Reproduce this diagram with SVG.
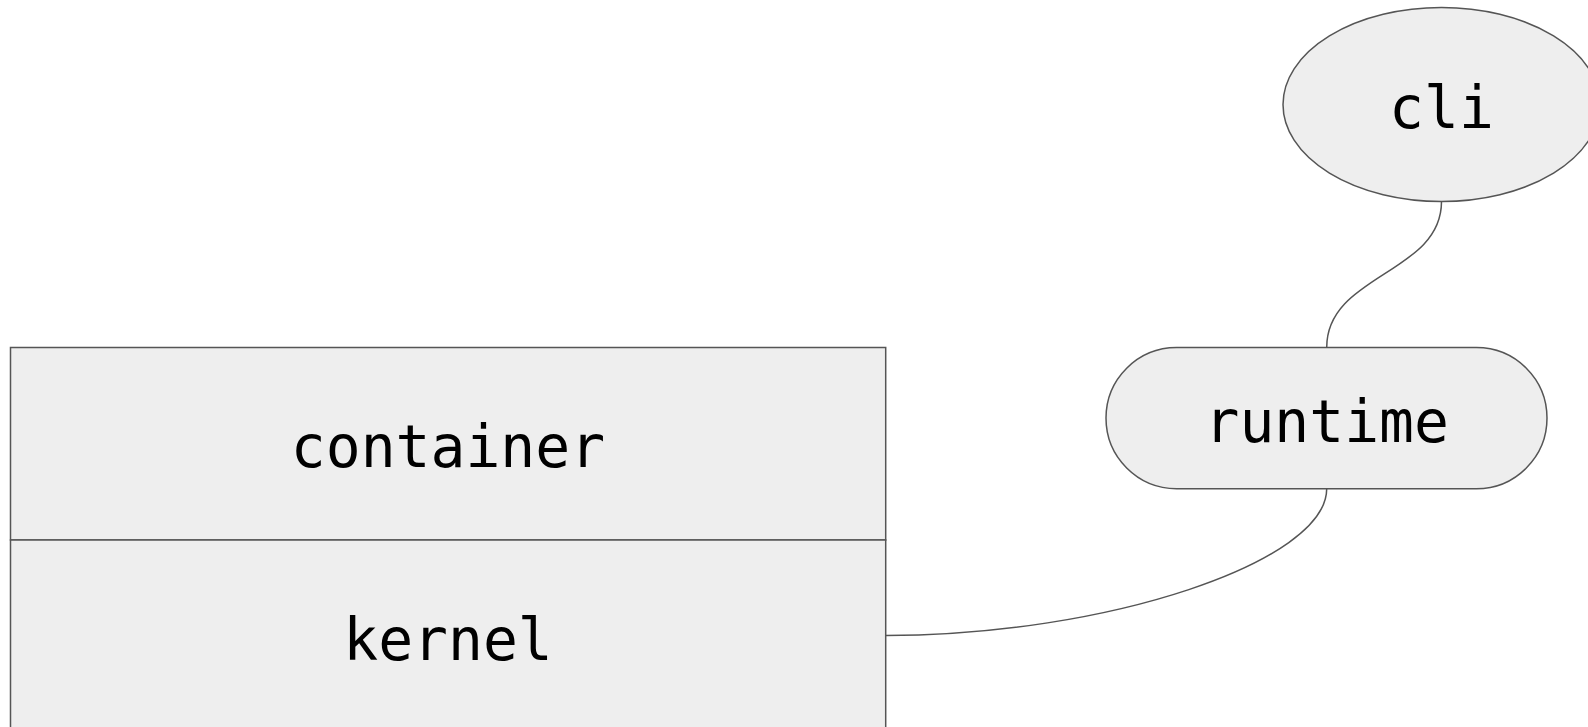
<svg xmlns="http://www.w3.org/2000/svg" width="1588" height="727" viewBox="0 0 1588 727">
  <style>
    .shape { fill: #eeeeee; stroke: #555555; stroke-width: 1.5; }
    .edge { fill: none; stroke: #555555; stroke-width: 1.5; }
    .label { font-family: "DejaVu Sans Mono", "Liberation Mono", monospace; font-size: 58px; fill: #000000; text-anchor: middle; }
  </style>
  <rect width="1588" height="727" fill="#ffffff"/>

  <g id="connectors">
    <path class="edge" d="M1441.5,201.5 C1441.5,274 1326.7,274 1326.7,347.5"/>
    <path class="edge" d="M1326.7,488.7 C1326.7,562 1106,635.5 885.7,635.5"/>
  </g>

  <g id="stack">
    <rect class="shape" x="10.5" y="347.5" width="875.2" height="192.5"/>
    <rect class="shape" x="10.5" y="540" width="875.2" height="192.5"/>
    <text class="label" x="448" y="466.5">container</text>
    <text class="label" x="448" y="659.5">kernel</text>
  </g>

  <g id="runtime">
    <rect class="shape" x="1106" y="347.5" width="441" height="141.2" rx="70.6" ry="70.6"/>
    <text class="label" x="1326.7" y="441.5">runtime</text>
  </g>

  <g id="cli">
    <ellipse class="shape" cx="1441.5" cy="104.5" rx="158.5" ry="97"/>
    <text class="label" x="1441.5" y="127.5">cli</text>
  </g>
</svg>
